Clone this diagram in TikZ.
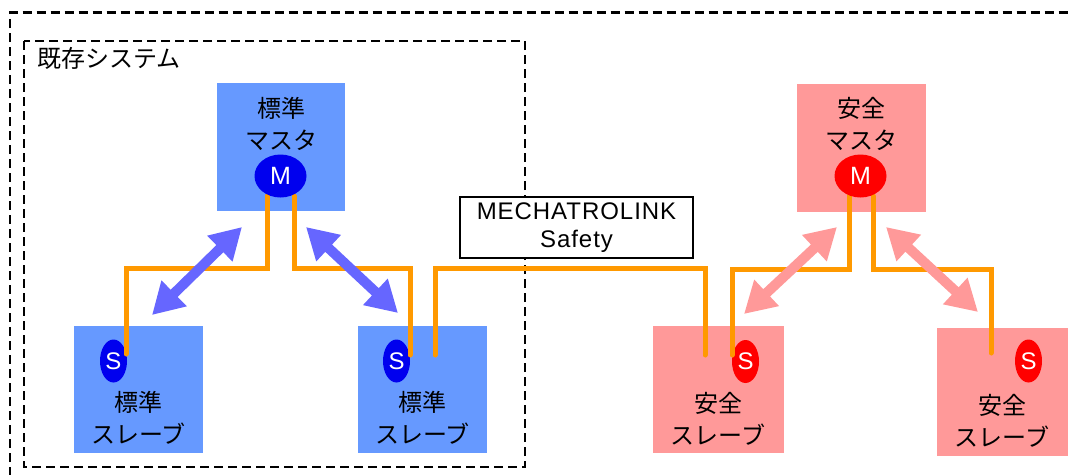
\documentclass[tikz,border=0pt]{standalone}
\usepackage{fontspec}
\setmainfont{Liberation Sans}
\newfontfamily\jpfont{Noto Sans CJK JP}
\usetikzlibrary{arrows.meta,shapes.geometric}
\definecolor{stdbox}{HTML}{6699FF}
\definecolor{stdarrow}{HTML}{6666FF}
\definecolor{stdnode}{HTML}{0000EE}
\definecolor{safebox}{HTML}{FF9999}
\definecolor{safearrow}{HTML}{FF9999}
\definecolor{safenode}{HTML}{FF0000}
\definecolor{busline}{HTML}{FF9900}
\tikzset{
  devbox/.style={rectangle, inner sep=0pt, draw=none, minimum width=129pt, minimum height=128pt},
  devlabel/.style={font=\jpfont\fontsize{24}{31.5}\selectfont, align=center, inner sep=0pt},
  mnode/.style={ellipse, inner sep=0pt, minimum width=52pt, minimum height=43pt, text=white, font=\fontsize{25}{25}\selectfont},
  snode/.style={ellipse, inner sep=0pt, minimum width=27pt, minimum height=43pt, text=white, font=\fontsize{24}{24}\selectfont},
  bus/.style={draw=busline, line width=5pt, line cap=round, line join=miter},
  linkarrow/.style={line width=10pt, {Triangle[length=31pt,width=34pt]}-{Triangle[length=31pt,width=34pt]}},
  sysframe/.style={draw=black, line width=2.5pt, dash pattern=on 9pt off 5pt}
}
\begin{document}
\begin{tikzpicture}[x=1pt,y=-1pt]
\useasboundingbox (0,0) rectangle (1068,474);
\clip (0,0) rectangle (1068,474);
% frames
\draw[sysframe] (10,490) -- (10,12.5) -- (1090,12.5);
\draw[sysframe] (24,41) rectangle (525,467);
\node[font=\jpfont\fontsize{24}{24}\selectfont, anchor=west, inner sep=0pt] (systitle) at (37,58) {既存システム};
% boxes
\node[devbox, fill=stdbox, minimum width=128pt] (stdm) at (281,147) {};
\node[devbox, fill=stdbox, minimum height=127pt] (stds1) at (138.5,389.5) {};
\node[devbox, fill=stdbox, minimum height=127pt] (stds2) at (422.5,389.5) {};
\node[devbox, fill=safebox] (safm) at (861.5,147.5) {};
\node[devbox, fill=safebox, minimum width=131pt, minimum height=127pt] (safs1) at (718.5,389.5) {};
\node[devbox, fill=safebox, minimum width=132pt] (safs2) at (1003,391.5) {};
% labels
\node[devlabel] (stdmlab) at (281,124) {標準\\マスタ};
\node[devlabel] (safmlab) at (861,124) {安全\\マスタ};
\node[devlabel] (stds1lab) at (138.5,418) {標準\\スレーブ};
\node[devlabel] (stds2lab) at (422.5,418) {標準\\スレーブ};
\node[devlabel] (safs1lab) at (718,419) {安全\\スレーブ};
\node[devlabel] (safs2lab) at (1002,421) {安全\\スレーブ};
% slave nodes
\node[snode, fill=stdnode] (s1) at (113.5,361) {S};
\node[snode, fill=stdnode] (s2) at (396.5,361) {S};
\node[snode, fill=safenode] (s3) at (745.5,361.5) {S};
\node[snode, fill=safenode] (s4) at (1028.5,361) {S};
% bus end points
\coordinate (a0) at (267,196); \coordinate (a1) at (126,354);
\coordinate (b0) at (294,196); \coordinate (b1) at (410,355);
\coordinate (c0) at (435,355); \coordinate (c1) at (705,355);
\coordinate (d0) at (849,196); \coordinate (d1) at (732,355);
\coordinate (e0) at (873,196); \coordinate (e1) at (991,353);
\draw[bus] (a0) -- (a0 |- 0,268) -- (a1 |- 0,268) -- (a1);
\draw[bus] (b0) -- (b0 |- 0,268) -- (b1 |- 0,268) -- (b1);
\draw[bus] (c0) -- (c0 |- 0,268) -- (c1 |- 0,268) -- (c1);
\draw[bus] (d0) -- (d0 |- 0,269) -- (d1 |- 0,269) -- (d1);
\draw[bus] (e0) -- (e0 |- 0,269) -- (e1 |- 0,269) -- (e1);
% master nodes
\node[mnode, fill=stdnode] (m1) at (280.5,176) {M};
\node[mnode, fill=safenode] (m2) at (860.5,176) {M};
% arrows
\coordinate (p1a) at (152,315); \coordinate (p1b) at (242,227);
\coordinate (p2a) at (306,227); \coordinate (p2b) at (398,313);
\coordinate (p3a) at (744,314); \coordinate (p3b) at (837,227);
\coordinate (p4a) at (886,227); \coordinate (p4b) at (978,312);
\draw[linkarrow, draw=stdarrow, fill=stdarrow] (p1a) -- (p1b);
\draw[linkarrow, draw=stdarrow, fill=stdarrow] (p2a) -- (p2b);
\draw[linkarrow, draw=safearrow, fill=safearrow] (p3a) -- (p3b);
\draw[linkarrow, draw=safearrow, fill=safearrow] (p4a) -- (p4b);
% network label
\node[draw=black, line width=1.5pt, fill=white, minimum width=233pt, minimum height=61pt, inner sep=0pt, align=center, font=\addfontfeature{LetterSpace=4}\fontsize{24}{28}\selectfont] (net) at (576.5,227.5) {MECHATROLINK\\Safety};
\end{tikzpicture}
\end{document}
